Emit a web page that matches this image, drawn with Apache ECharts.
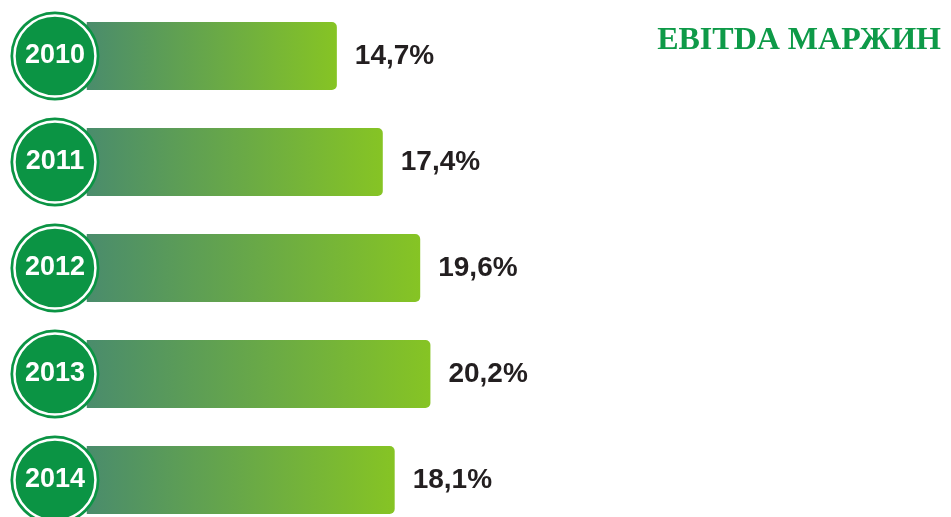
<!DOCTYPE html>
<html>
<head>
<meta charset="utf-8">
<script src="https://cdn.jsdelivr.net/npm/echarts@6/dist/echarts.min.js"></script>
<style>
  html, body { margin: 0; padding: 0; background: #fff; }
  #chart { width: 951px; height: 517px; }
</style>
</head>
<body>
<div id="chart"></div>
<script>
// data
var years = ['2010', '2011', '2012', '2013', '2014'];
var margins = [14.7, 17.4, 19.6, 20.2, 18.1];
var titleText = 'EBITDA МАРЖИН';

// where the year badges sit on the value axis (left of zero)
var badgeX = -1.87;

var chart = echarts.init(document.getElementById('chart'));

var barGradient = new echarts.graphic.LinearGradient(0, 0, 1, 0, [
  { offset: 0, color: '#4a8c6c' },
  { offset: 1, color: '#86c424' }
]);

var option = {
  backgroundColor: '#fff',
  animation: false,
  title: {
    text: titleText,
    right: 5,
    top: 20,
    textStyle: {
      fontFamily: 'Liberation Serif',
      fontWeight: 'bold',
      fontSize: 32,
      color: '#0e9a48'
    }
  },
  grid: {
    left: 0,
    right: 0,
    top: 56,
    bottom: 37
  },
  xAxis: {
    type: 'value',
    min: -5.1,
    max: 50.8,
    show: false
  },
  yAxis: {
    type: 'category',
    inverse: true,
    boundaryGap: false,
    data: years,
    show: false
  },
  series: [
    {
      type: 'bar',
      barWidth: 68,
      z: 2,
      data: margins,
      itemStyle: {
        color: barGradient,
        borderRadius: [0, 5, 5, 0]
      },
      label: {
        show: true,
        position: 'right',
        distance: 18,
        fontFamily: 'Liberation Sans',
        fontWeight: 'bold',
        fontSize: 28,
        color: '#231f20',
        formatter: function (p) {
          return p.value.toFixed(1).replace('.', ',') + '%';
        }
      }
    },
    {
      // outer ring of badge
      type: 'scatter',
      z: 3,
      clip: false,
      symbol: 'circle',
      symbolSize: 89,
      itemStyle: { color: '#0b9444', opacity: 1 },
      data: years.map(function (y) { return [badgeX, y]; })
    },
    {
      // inner disc with white ring
      type: 'scatter',
      z: 4,
      clip: false,
      symbol: 'circle',
      symbolSize: 81,
      itemStyle: { color: '#0b9444', borderColor: '#fff', borderWidth: 2.5, opacity: 1 },
      label: {
        show: true,
        position: 'inside',
        fontFamily: 'Liberation Sans',
        fontWeight: 'bold',
        fontSize: 27,
        color: '#fff',
        formatter: function (p) { return p.value[1]; }
      },
      data: years.map(function (y) { return [badgeX, y]; })
    }
  ]
};

chart.setOption(option);
</script>
</body>
</html>
